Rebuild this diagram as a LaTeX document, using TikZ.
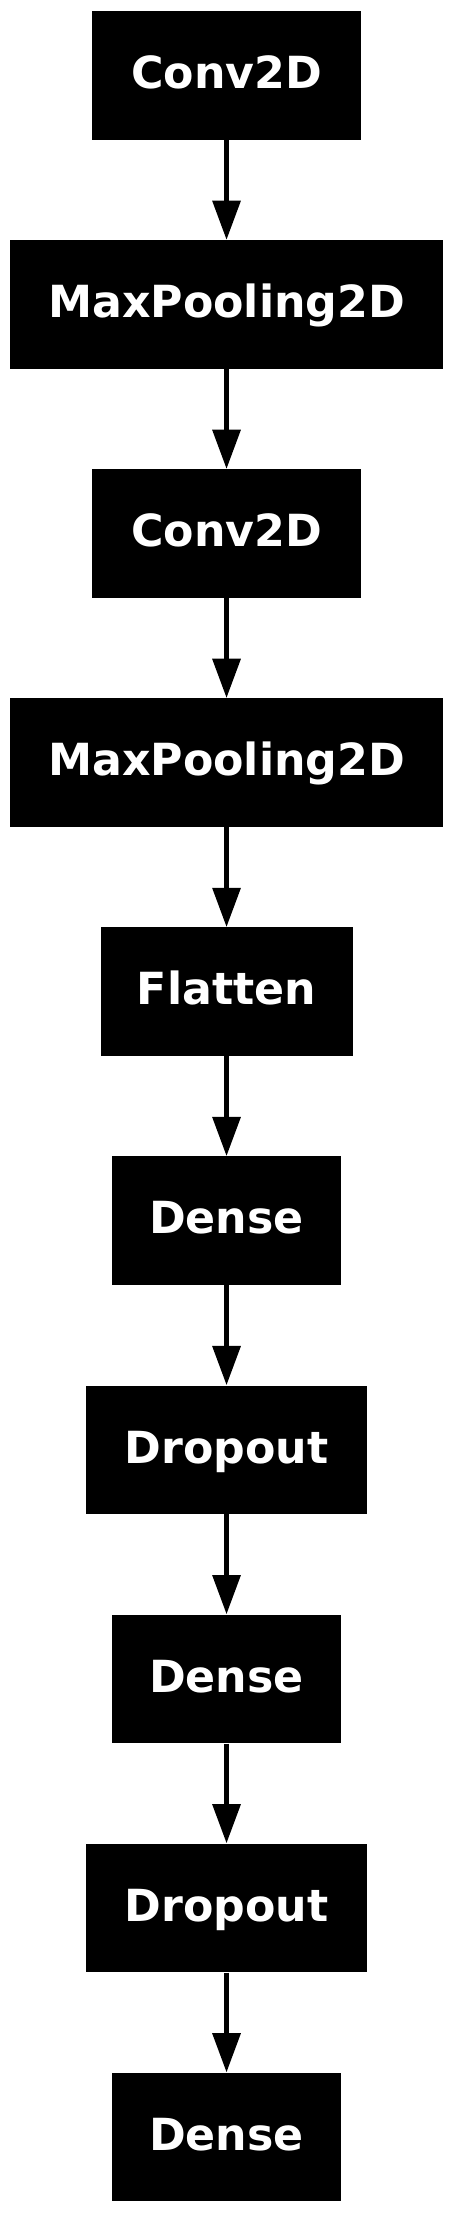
\documentclass[tikz,border=0pt]{standalone}
\usepackage{fontspec}
\setmainfont{DejaVu Sans}
\usepackage{tikz}
\usetikzlibrary{arrows.meta}
\usetikzlibrary{positioning}

\tikzset{
  layer/.style={rectangle,fill=black,text=white,inner sep=0pt,
    minimum height=96.5pt,minimum width=#1,
    text height=24.2pt,text depth=4.5pt,
    font=\bfseries\fontsize{33.2}{40}\selectfont},
  flow/.style={draw,line width=4pt,-{Triangle[width=20.5pt,length=29.5pt]}}
}

\begin{document}
\begin{tikzpicture}[node distance=74.9pt]

  \useasboundingbox (0,0) rectangle (339.75pt,-1660.5pt);

  \node [layer=201.5pt] (conv_1) at (169.9pt,-56.6pt) {Conv2D};
  \node [layer=325pt,below=of conv_1] (pool_1) {MaxPooling2D};
  \node [layer=201.5pt,below=of pool_1] (conv_2) {Conv2D};
  \node [layer=325pt,below=of conv_2] (pool_2) {MaxPooling2D};
  \node [layer=189pt,below=of pool_2] (flat) {Flatten};
  \node [layer=171.75pt,below=of flat] (dense_1) {Dense};
  \node [layer=210.75pt,below=of dense_1] (drop_1) {Dropout};
  \node [layer=171.75pt,below=of drop_1] (dense_2) {Dense};
  \node [layer=210.75pt,below=of dense_2] (drop_2) {Dropout};
  \node [layer=171.75pt,below=of drop_2] (dense_3) {Dense};

  \path [flow]
    (conv_1)  edge (pool_1)
    (pool_1)  edge (conv_2)
    (conv_2)  edge (pool_2)
    (pool_2)  edge (flat)
    (flat)    edge (dense_1)
    (dense_1) edge (drop_1)
    (drop_1)  edge (dense_2)
    (dense_2) edge (drop_2)
    (drop_2)  edge (dense_3);
\end{tikzpicture}
\end{document}
